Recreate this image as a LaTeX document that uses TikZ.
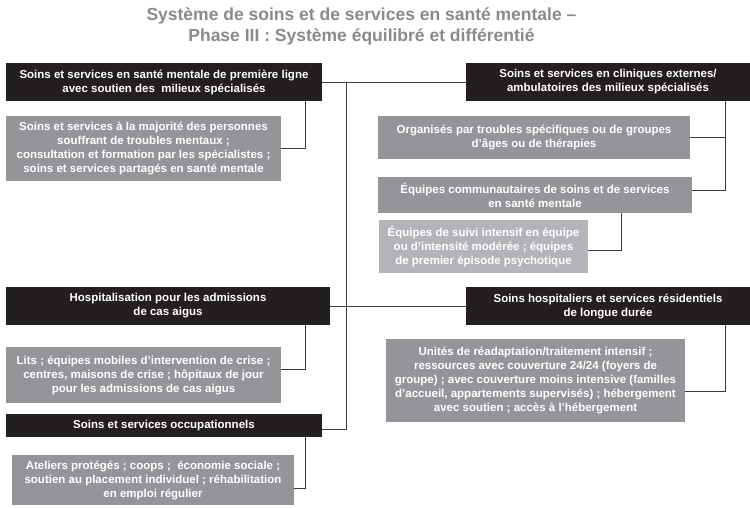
\documentclass[tikz,border=0pt]{standalone}
\usepackage{fontspec}
\setmainfont{Liberation Sans}

\definecolor{boxdark}{HTML}{231F20}
\definecolor{boxgray}{HTML}{939598}
\definecolor{boxlight}{HTML}{B2B4B7}
\definecolor{titlegray}{HTML}{888A8D}
\definecolor{linkgray}{HTML}{3A3A3A}

\begin{document}
\begin{tikzpicture}[x=1pt, y=-1pt,
		box/.style={inner sep=0pt, align=center, text=white, font=\fontsize{11.5}{14}\selectfont\bfseries},
		headbox/.style={box, fill=boxdark},
		subbox/.style={box, fill=boxgray},
		lightbox/.style={box, fill=boxlight},
		link/.style={draw=linkgray, line width=1pt}]
		
		\useasboundingbox (0,0) rectangle (750,507);
		
		% ==========================================
		% TITLE
		% ==========================================
		\node[align=center, text=titlegray, font=\fontsize{17.5}{20.5}\selectfont\bfseries] (title) at (361.5,26.5) {
			Système de soins et de services en santé mentale –\\
			Phase III : Système équilibré et différentié};
		
		% ==========================================
		% LEFT COLUMN
		% ==========================================
		\node[headbox, minimum width=316pt, minimum height=38pt] (first) at (164,82) {Soins et services en santé mentale de première ligne\\avec soutien des~ milieux spécialisés};
		\node[subbox, minimum width=275pt, minimum height=65pt] (firstsub) at (143.5,148.5) {Soins et services à la majorité des personnes\\souffrant de troubles mentaux ;\\consultation et formation par les spécialistes ;\\soins et services partagés en santé mentale};
		
		\node[headbox, minimum width=324pt, minimum height=38pt] (hosp) at (168,306) {Hospitalisation pour les admissions\\de cas aigus};
		\node[subbox, minimum width=275pt, minimum height=56pt] (hospsub) at (143.5,375) {Lits ; équipes mobiles d’intervention de crise ;\\centres, maisons de crise ; hôpitaux de jour\\pour les admissions de cas aigus};
		
		\node[headbox, minimum width=316pt, minimum height=23pt] (occup) at (164,425.5) {Soins et services occupationnels};
		\node[subbox, minimum width=282pt, minimum height=50pt] (occupsub) at (153,480) {Ateliers protégés ; coops ;~ économie sociale ;\\soutien au placement individuel ; réhabilitation\\en emploi régulier};
		
		% ==========================================
		% RIGHT COLUMN
		% ==========================================
		\node[headbox, minimum width=284pt, minimum height=38pt] (outpat) at (608,82) {Soins et services en cliniques externes/\\ambulatoires des milieux spécialisés};
		\node[subbox, minimum width=312pt, minimum height=43pt] (bygroup) at (534,137.5) {Organisés par troubles spécifiques ou de groupes\\d’âges ou de thérapies};
		\node[subbox, minimum width=314pt, minimum height=36pt] (community) at (535,195) {Équipes communautaires de soins et de services\\en santé mentale};
		\node[lightbox, minimum width=209pt, minimum height=53pt] (intensive) at (483.5,246.5) {Équipes de suivi intensif en équipe\\ou d’intensité modérée ; équipes\\de premier épisode psychotique};
		
		\node[headbox, minimum width=284pt, minimum height=38pt] (longterm) at (608,306) {Soins hospitaliers et services résidentiels\\de longue durée};
		\node[subbox, minimum width=299pt, minimum height=83pt] (residential) at (535.5,380.5) {Unités de réadaptation/traitement intensif ;\\ressources avec couverture 24/24 (foyers de\\groupe) ; avec couverture moins intensive (familles\\d’accueil, appartements supervisés) ; hébergement\\avec soutien ; accès à l’hébergement};
		
		% ==========================================
		% CONNECTORS
		% ==========================================
		% spine between the two columns
		\coordinate (spine) at (346,82);
		\draw[link] (first.east) -- (outpat.west);
		\draw[link] (hosp.east) -- (longterm.west);
		\draw[link] (spine) |- ([yshift=-3.5pt]occup.east);
		
		% left branches
		\draw[link] ([xshift=141pt]first.south) |- (firstsub.east);
		\draw[link] ([xshift=137pt]hosp.south) |- ([yshift=6pt]hospsub.east);
		\draw[link] ([xshift=141pt]occup.south) |- ([yshift=-8pt]occupsub.east);
		
		% right branches
		\coordinate (rail) at ([xshift=117pt]outpat.south);
		\draw[link] (rail) |- ([yshift=5pt]community.east);
		\draw[link] (bygroup.east) -- (bygroup.east -| rail);
		\draw[link] ([xshift=86pt]community.south) |- ([yshift=-3.5pt]intensive.east);
		\draw[link] ([xshift=117pt]longterm.south) |- ([yshift=-11pt]residential.east);
		
	\end{tikzpicture}
\end{document}
